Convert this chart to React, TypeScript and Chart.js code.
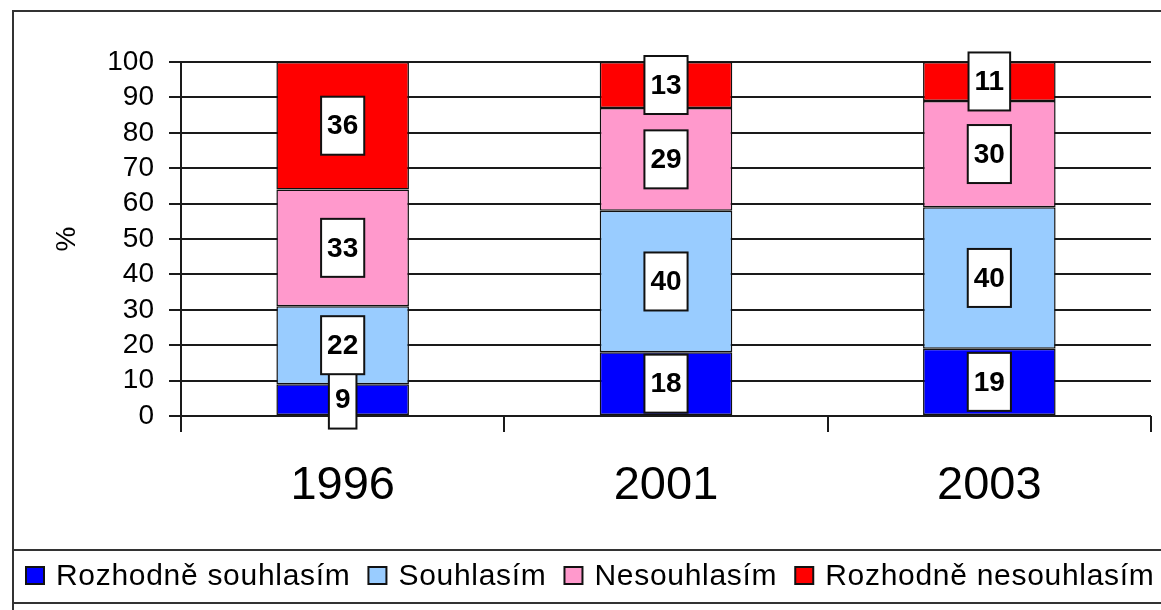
import React, { useEffect, useRef } from "react";
import { Chart, registerables } from "chart.js";

Chart.register(...registerables);

const categories = ["1996", "2001", "2003"];
const seriesNames = ["Rozhodně souhlasím", "Souhlasím", "Nesouhlasím", "Rozhodně nesouhlasím"];
const strongAgree = [9, 18, 19];
const agree = [22, 40, 40];
const disagree = [33, 29, 30];
const strongDisagree = [36, 13, 11];
const seriesColors = ["#0000FF", "#99CCFF", "#FF99CC", "#FF0000"];
const yTicks = [0, 10, 20, 30, 40, 50, 60, 70, 80, 90, 100];
const yTitle = "%";

const FONT = "'Liberation Sans', Arial, sans-serif";

const framePlugin = {
  id: "frame",
  beforeDraw(chart: any) {
    const ctx = chart.ctx;
    ctx.save();
    ctx.fillStyle = "#fff";
    ctx.fillRect(0, 0, chart.width, chart.height);
    ctx.strokeStyle = "#333";
    ctx.lineWidth = 2;
    ctx.beginPath();
    ctx.moveTo(13, chart.height);
    ctx.lineTo(13, 11);
    ctx.lineTo(chart.width, 11);
    ctx.moveTo(13, 550);
    ctx.lineTo(chart.width, 550);
    ctx.moveTo(13, 603);
    ctx.lineTo(chart.width, 603);
    ctx.stroke();
    ctx.restore();
  },
};

const valueLabelPlugin = {
  id: "valueLabels",
  afterDatasetsDraw(chart: any) {
    const ctx = chart.ctx;
    ctx.save();
    ctx.font = `bold 28px ${FONT}`;
    ctx.textAlign = "center";
    ctx.textBaseline = "middle";
    chart.data.datasets.forEach((ds: any, di: number) => {
      const meta = chart.getDatasetMeta(di);
      meta.data.forEach((el: any, i: number) => {
        const v = ds.data[i];
        const text = String(v);
        const cx = el.x;
        const cy = (el.y + el.base) / 2;
        const w = ctx.measureText(text).width + 12;
        const h = 58;
        ctx.fillStyle = "#fff";
        ctx.fillRect(cx - w / 2, cy - h / 2, w, h);
        ctx.strokeStyle = "#111";
        ctx.lineWidth = 2;
        ctx.strokeRect(cx - w / 2, cy - h / 2, w, h);
        ctx.fillStyle = "#000";
        ctx.fillText(text, cx, cy + 1);
      });
    });
    ctx.restore();
  },
};

const legendPlugin = {
  id: "customLegend",
  afterDraw(chart: any) {
    const ctx = chart.ctx;
    ctx.save();
    ctx.font = `30px ${FONT}`;
    ctx.textBaseline = "middle";
    ctx.textAlign = "left";
    (ctx as any).letterSpacing = "0.7px";
    let x = 26;
    const cy = 576;
    chart.data.datasets.forEach((ds: any) => {
      ctx.fillStyle = ds.backgroundColor;
      ctx.fillRect(x, cy - 9, 18, 17);
      ctx.strokeStyle = "#111";
      ctx.lineWidth = 2;
      ctx.strokeRect(x, cy - 9, 18, 17);
      x += 18 + 12;
      ctx.fillStyle = "#000";
      ctx.fillText(ds.label, x, cy + 1);
      x += ctx.measureText(ds.label).width + 18;
    });
    ctx.restore();
  },
};

export default function App() {
  const ref = useRef<HTMLCanvasElement | null>(null);
  useEffect(() => {
    if (!ref.current) return;
    const values = [strongAgree, agree, disagree, strongDisagree];
    const chart = new Chart(ref.current, {
      type: "bar",
      data: {
        labels: categories,
        datasets: seriesNames.map((name, i) => ({
          label: name,
          data: values[i],
          backgroundColor: seriesColors[i],
          borderColor: "#111",
          borderWidth: 1.5,
          borderSkipped: false,
          categoryPercentage: 1,
          barPercentage: 0.41,
        })),
      },
      options: {
        responsive: false,
        animation: false,
        devicePixelRatio: 1,
        layout: { padding: { top: 62, right: 10, left: 0, bottom: 0 } },
        plugins: { legend: { display: false }, tooltip: { enabled: false } },
        scales: {
          x: {
            stacked: true,
            offset: true,
            afterFit: (s: any) => {
              s.height = 194;
            },
            grid: {
              offset: true,
              drawOnChartArea: false,
              tickLength: 16,
              color: "#1a1a1a",
              lineWidth: 2,
            },
            border: { display: false },
            ticks: {
              color: "#000",
              font: { family: FONT, size: 47 },
              padding: 26,
              maxRotation: 0,
            },
          },
          y: {
            stacked: true,
            min: 0,
            max: 100,
            afterFit: (s: any) => {
              s.width = 181;
            },
            afterBuildTicks: (s: any) => {
              s.ticks = yTicks.map((v) => ({ value: v }));
            },
            grid: {
              color: "#1a1a1a",
              lineWidth: 2,
              tickLength: 12,
            },
            border: { display: true, color: "#1a1a1a", width: 2 },
            ticks: {
              color: "#000",
              font: { family: FONT, size: 28 },
              padding: 15,
              autoSkip: false,
              stepSize: 10,
            },
            title: {
              display: true,
              text: yTitle,
              color: "#000",
              font: { family: FONT, size: 28 },
              padding: { top: 50, bottom: 0 },
            },
          },
        },
      },
      plugins: [framePlugin, valueLabelPlugin, legendPlugin],
    });
    return () => chart.destroy();
  }, []);
  return (
    <div style={{ position: "fixed", left: 0, top: 0, width: 1161, height: 610, background: "#fff" }}>
      <canvas ref={ref} width={1161} height={610} style={{ display: "block" }} />
    </div>
  );
}
